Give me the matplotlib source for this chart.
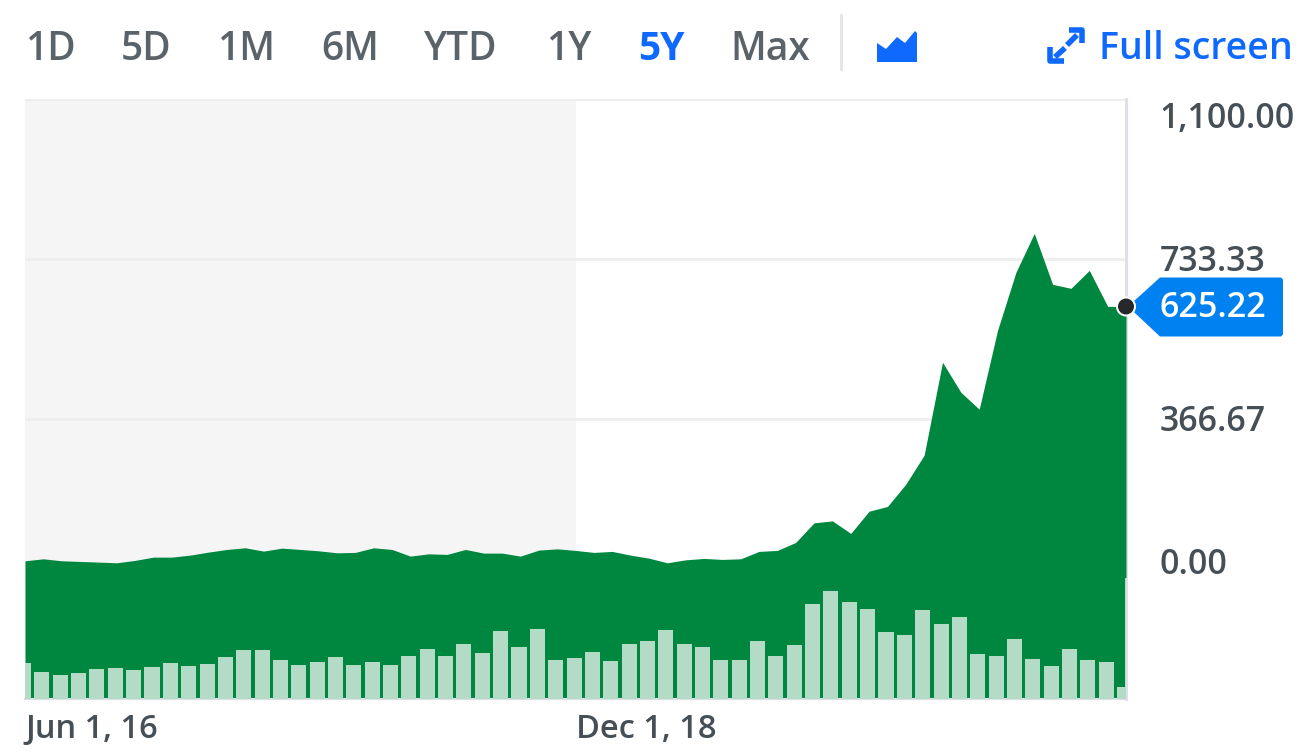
import matplotlib
matplotlib.use('Agg')
import matplotlib.pyplot as plt
from matplotlib.patches import Polygon, Circle
from matplotlib.transforms import ScaledTranslation

plt.rcParams['font.family'] = ['Open Sans', 'DejaVu Sans']

# valores
precos = [42, 46.5, 42, 40.5, 39, 37.4, 42.9, 50.4, 50.4, 55, 61.9, 68, 71.8, 64.2, 71, 68,
          64.9, 60.3, 61.2, 71.8, 68, 52.7, 58, 56.6, 68, 59.6, 59.6, 52.7, 66.5, 69.4, 65.8,
          61.2, 63.5, 55, 48.1, 37.4, 44.2, 47.4, 45.1, 46.5, 63.5, 65.8, 84.1, 129, 133.6,
          104.7, 155.8, 166.6, 217.7, 284.2, 497.3, 428.5, 389.6, 570.6, 703.5, 792.9, 676,
          666.9, 708.1, 625.6, 625.22]
volumes = [36, 26.7, 24, 25.7, 30, 31.3, 29.3, 32, 35.7, 33.3, 35.3, 41.7, 49.3, 48.7, 39.3, 34,
           36.7, 41.7, 34, 36.7, 33.7, 43.3, 50.3, 43.3, 55, 46.3, 68, 51.7, 70, 38.7, 41.3,
           47.3, 37.7, 55, 58.3, 69, 55.3, 52, 38.7, 39, 58, 43.3, 53.7, 94.7, 108, 97.3, 89.7,
           67, 63.7, 88.7, 75, 82.3, 45.3, 43.3, 60, 40, 32.7, 49.7, 39, 36.7, 12]
y_ticks = [0, 366.67, 733.33, 1100]
y_labels = ['0.00', '366.67', '733.33', '1,100.00']
x_ticks = [0, 30]
x_labels = ['Jun 1, 16', 'Dec 1, 18']
periodos = ['1D', '5D', '1M', '6M', 'YTD', '1Y', '5Y', 'Max']
periodos_x = [50, 146, 246, 350, 461, 569, 661, 770]

VERDE = '#00873f'
VERDE_CLARO = '#b3dbc5'
AZUL = '#0f69ff'
CINZA = '#464e56'
LINHA = '#dcdfe8'

L, A = 1314, 754
fig = plt.figure(figsize=(L / 100, A / 100), dpi=100, facecolor='white')

# grafico principal (posicao em pixels)
esq, dir_, topo, base = 25, 1126, 99.5, 699
ax = fig.add_axes([esq / L, 1 - base / A, (dir_ - esq) / L, (base - topo) / A])
ax_vol = ax.twinx()
ax.set_xlim(0, len(precos) - 1)
ax.set_ylim(-275, 1100)
ax.axvspan(0, 30, color='#f5f5f5', lw=0, zorder=0)
ax.grid(axis='y', color='#eeeeee', lw=2, zorder=1)
ax.set_axisbelow(True)
indices = list(range(len(precos)))
ax.fill_between(indices, precos, -275, color=VERDE, lw=0, zorder=2)

for lado in ['top', 'left']:
    ax.spines[lado].set_visible(False)
ax.spines['right'].set_color(LINHA)
ax.spines['right'].set_linewidth(2)
ax.spines['right'].set_zorder(1)
ax.spines['bottom'].set_color(LINHA)
ax.spines['bottom'].set_linewidth(1.5)

ax.yaxis.tick_right()
ax.set_yticks(y_ticks, y_labels)
ax.tick_params(axis='y', length=0, pad=24, labelsize=24.5, labelcolor=CINZA)
desce = ScaledTranslation(0, -2.5 / 100, fig.dpi_scale_trans)
for rotulo, va in zip(ax.get_yticklabels(), ['bottom', 'center', 'center', 'top']):
    rotulo.set_va(va)
    rotulo.set_fontweight('semibold')
    rotulo.set_transform(rotulo.get_transform() + desce)
ax.set_xticks(x_ticks, x_labels)
ax.tick_params(axis='x', length=0, pad=10, labelsize=23.5, labelcolor=CINZA)
for rotulo in ax.get_xticklabels():
    rotulo.set_ha('left')
    rotulo.set_fontweight('semibold')

# volume
ax_vol.set_ylim(0, base - topo)
ax_vol.bar([i - 0.08 for i in indices], volumes, width=0.82, color=VERDE_CLARO, lw=0, zorder=3)
ax_vol.set_yticks([])
for lado in ['top', 'left', 'bottom']:
    ax_vol.spines[lado].set_visible(False)
ax_vol.spines['right'].set_bounds(0, 120)
ax_vol.spines['right'].set_color(LINHA)
ax_vol.spines['right'].set_linewidth(2)

# camada em pixels para a barra de cima e o marcador
over = fig.add_axes([0, 0, 1, 1], facecolor='none')
over.set_xlim(0, L)
over.set_ylim(A, 0)
over.axis('off')

for nome, x in zip(periodos, periodos_x):
    ativo = nome == '5Y'
    over.text(x, 50, nome, ha='center', va='center', fontsize=28,
              color=AZUL if ativo else '#5b636a', fontweight='bold' if ativo else 'semibold')

over.plot([841, 841], [15, 69], color='#e3e5e8', lw=2)
over.add_patch(Polygon([(877, 43), (886, 49), (897, 37), (905, 43), (915, 31), (917, 33),
                        (917, 62), (877, 62)], closed=True, color=AZUL, lw=0))
over.plot([1069, 1082, 1082], [30, 30, 43], color=AZUL, lw=4, solid_capstyle='butt')
over.plot([1077, 1067], [35, 45], color=AZUL, lw=4, solid_capstyle='butt')
over.plot([1050, 1050, 1064], [47, 61, 61], color=AZUL, lw=4, solid_capstyle='butt')
over.plot([1065, 1055], [48, 57], color=AZUL, lw=4, solid_capstyle='butt')
over.text(1099, 49, 'Full screen', ha='left', va='center', fontsize=27, color=AZUL,
          fontweight='semibold')

# marcador do ultimo preco
fig.canvas.draw()
px, py = ax.transData.transform((indices[-1], precos[-1]))
py = A - py
over.add_patch(Polygon([(1128, py), (1160, py - 29), (1281, py - 29), (1283, py - 27),
                        (1283, py + 28), (1281, py + 30), (1160, py + 30)],
                       closed=True, color='#0081f2', lw=0))
over.add_patch(Circle((px, py), 10, color='white', lw=0))
over.add_patch(Circle((px, py), 8, color='#26282c', lw=0))
over.text(1213, py + 1, '625.22', ha='center', va='center', fontsize=24.5, color='white',
          fontweight='semibold')

fig.savefig('out.png', dpi=100)
plt.close()
